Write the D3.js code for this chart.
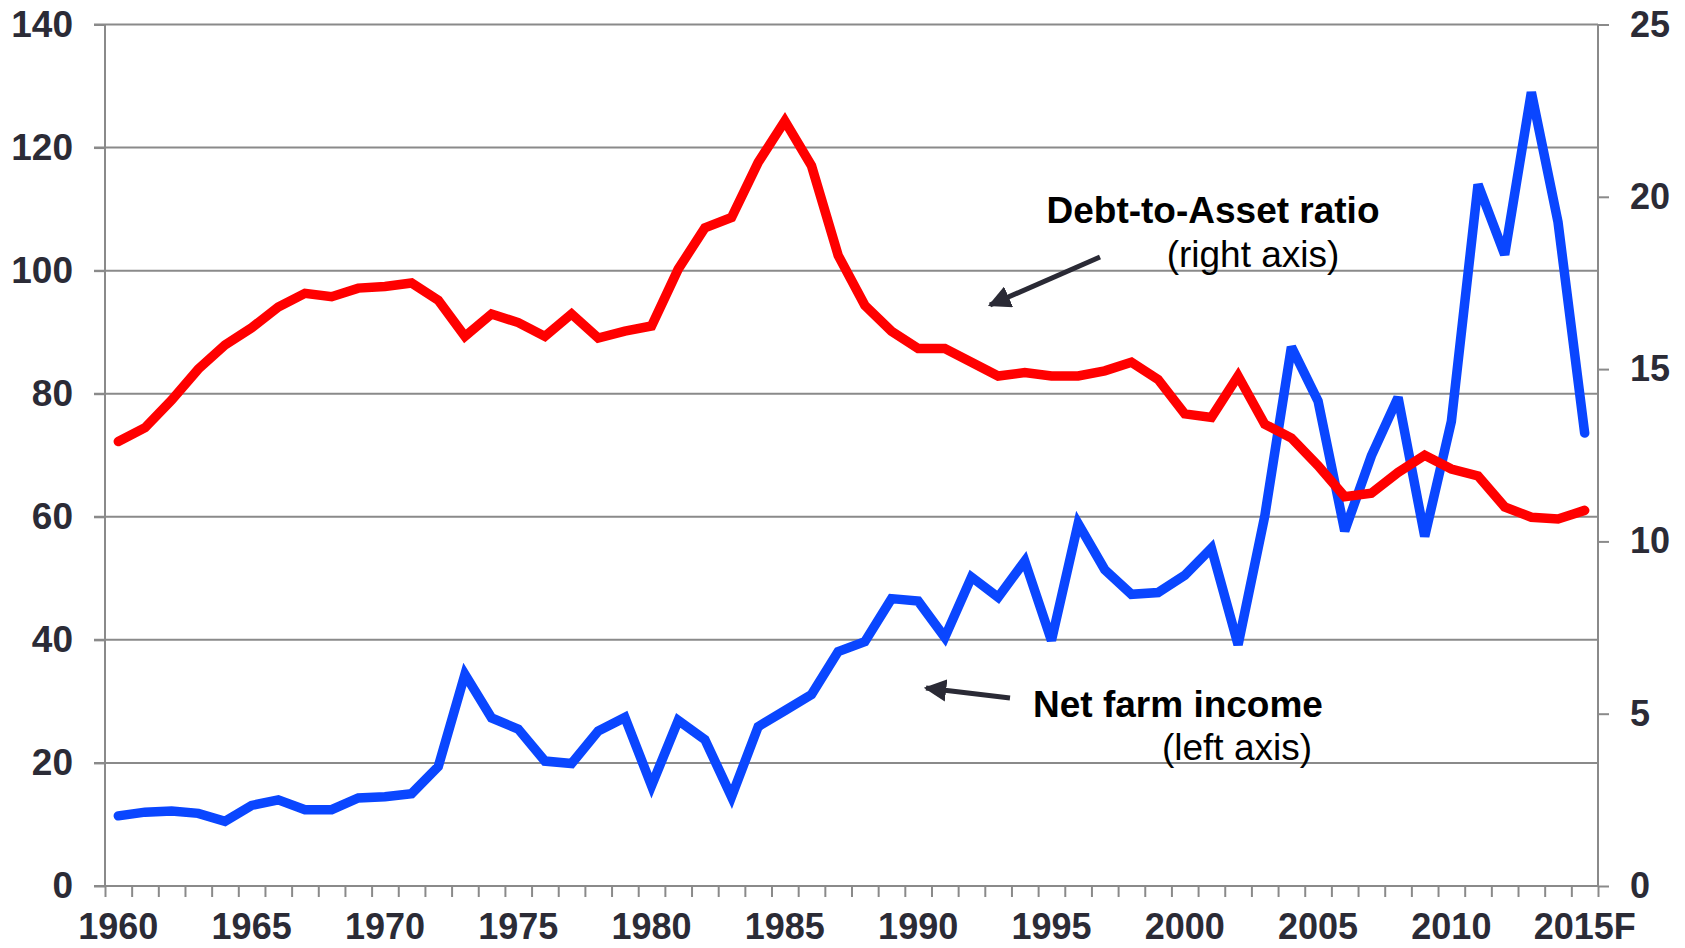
<!DOCTYPE html>
<html><head><meta charset="utf-8">
<script src="https://cdn.jsdelivr.net/npm/d3@7"></script>
<style>
html,body{margin:0;padding:0;background:#fff;}
svg{display:block;font-family:"Liberation Sans",Arial,sans-serif;}
</style></head>
<body>
<svg id="chart" width="1685" height="948"></svg>
<script>
const years = d3.range(1960, 2016);
const yearLabels = ["1960","1965","1970","1975","1980","1985","1990","1995","2000","2005","2010","2015F"];
const netFarmIncome = [11.4,12.0,12.2,11.8,10.5,13.1,14.0,12.4,12.4,14.3,14.5,15.0,19.4,34.4,27.3,25.5,20.3,19.9,25.2,27.4,
  16.3,26.9,23.8,14.5,25.9,28.5,31.1,38.1,39.7,46.7,46.3,40.4,50.2,46.9,52.8,39.9,58.9,51.4,47.4,47.7,
  50.5,54.9,39.2,60.1,87.6,78.8,57.7,69.9,79.4,56.8,75.5,114.0,102.6,129.0,107.9,73.6];
const debtToAsset = [12.9,13.3,14.1,15.0,15.7,16.2,16.8,17.2,17.1,17.35,17.4,17.5,17.0,15.95,16.6,16.35,15.95,16.6,15.9,16.1,
  16.25,17.9,19.1,19.4,21.0,22.2,20.9,18.3,16.85,16.1,15.6,15.6,15.2,14.8,14.9,14.8,14.8,14.95,15.2,14.7,
  13.7,13.6,14.8,13.4,13.0,12.2,11.3,11.4,12.0,12.5,12.1,11.9,11.0,10.7,10.65,10.9];
const leftTicks = [0,20,40,60,80,100,120,140];
const rightTicks = [0,5,10,15,20,25];

const svg = d3.select("#chart");
const L = 105, R = 1598, T = 24.5, B = 886;
const gray = "#8a8a8a", tickColor = "#2b2b36";

const x = d3.scaleBand().domain(years).range([L, R]).paddingInner(0).paddingOuter(0);
const xEdge = d3.scaleLinear().domain([0, years.length]).range([L, R]);
const yL = d3.scaleLinear().domain([0, 140]).range([B, T]);
const yR = d3.scaleLinear().domain([0, 25]).range([B, T]);

// gridlines
svg.append("g").selectAll("line").data(leftTicks).join("line")
  .attr("x1", L - 11).attr("x2", R)
  .attr("y1", d => yL(d)).attr("y2", d => yL(d))
  .attr("stroke", gray).attr("stroke-width", 2);

// left axis
const gL = svg.append("g").attr("transform", `translate(${L},0)`)
  .call(d3.axisLeft(yL).tickValues(leftTicks).tickSize(11).tickPadding(21));
// right axis
const gR = svg.append("g").attr("transform", `translate(${R},0)`)
  .call(d3.axisRight(yR).tickValues(rightTicks).tickSize(11).tickPadding(21));
// bottom tick marks at band edges
const gB = svg.append("g").attr("transform", `translate(0,${B})`)
  .call(d3.axisBottom(xEdge).tickValues(d3.range(years.length + 1)).tickSize(11).tickFormat(""));
// bottom labels
const labelYears = years.filter(y => (y - 1960) % 5 === 0);
const gBL = svg.append("g").attr("transform", `translate(0,${B})`)
  .call(d3.axisBottom(x).tickValues(labelYears).tickSize(0).tickPadding(27)
    .tickFormat((d, i) => yearLabels[i]));
gBL.select(".domain").remove();

[gL, gR, gB].forEach(g => {
  g.select(".domain").attr("stroke", gray).attr("stroke-width", 2);
  g.selectAll(".tick line").attr("stroke", gray).attr("stroke-width", 2);
});
[gL, gR, gBL].forEach(g => {
  g.selectAll(".tick text").attr("fill", tickColor).attr("font-size", 36)
    .attr("font-weight", "bold").attr("font-family", "Liberation Sans, Arial, sans-serif");
});
gL.selectAll(".tick text").attr("font-size", 37);
gL.select(".domain").attr("d", `M0,${T}V${B}`);
gR.select(".domain").attr("d", `M0,${T}V${B}`);
gB.select(".domain").attr("d", `M${L},0H${R}`);

// lines
const cx = d => x(d) + x.bandwidth() / 2;
const lineL = d3.line().x((d, i) => cx(years[i])).y(d => yL(d));
const lineR = d3.line().x((d, i) => cx(years[i])).y(d => yR(d));
svg.append("path").datum(netFarmIncome).attr("d", lineL)
  .attr("fill", "none").attr("stroke", "#0a46ff").attr("stroke-width", 9.5)
  .attr("stroke-linejoin", "miter").attr("stroke-miterlimit", 3).attr("stroke-linecap", "round");
svg.append("path").datum(debtToAsset).attr("d", lineR)
  .attr("fill", "none").attr("stroke", "#ff0000").attr("stroke-width", 9.5)
  .attr("stroke-linejoin", "miter").attr("stroke-miterlimit", 3).attr("stroke-linecap", "round");

// annotations
const defs = svg.append("defs");
defs.append("marker").attr("id", "ah").attr("viewBox", "0 0 10 10")
  .attr("refX", 9).attr("refY", 5).attr("markerWidth", 4.5).attr("markerHeight", 4.5)
  .attr("orient", "auto").attr("markerUnits", "strokeWidth")
  .append("path").attr("d", "M0,0L10,5L0,10z").attr("fill", "#2a2a35");

const ann = svg.append("g").attr("font-family", "Liberation Sans, Arial, sans-serif").attr("fill", "#000");
ann.append("text").attr("x", 1213).attr("y", 223).attr("text-anchor", "middle")
  .attr("font-size", 37).attr("font-weight", "bold").text("Debt-to-Asset ratio");
ann.append("text").attr("x", 1253).attr("y", 267).attr("text-anchor", "middle")
  .attr("font-size", 37).text("(right axis)");
ann.append("text").attr("x", 1178).attr("y", 717).attr("text-anchor", "middle")
  .attr("font-size", 37).attr("font-weight", "bold").text("Net farm income");
ann.append("text").attr("x", 1237).attr("y", 760).attr("text-anchor", "middle")
  .attr("font-size", 37).text("(left axis)");

svg.append("line").attr("x1", 1100).attr("y1", 257).attr("x2", 990).attr("y2", 305)
  .attr("stroke", "#2a2a35").attr("stroke-width", 5).attr("marker-end", "url(#ah)");
svg.append("line").attr("x1", 1010).attr("y1", 698).attr("x2", 926).attr("y2", 688)
  .attr("stroke", "#2a2a35").attr("stroke-width", 5).attr("marker-end", "url(#ah)");
</script>
</body></html>
